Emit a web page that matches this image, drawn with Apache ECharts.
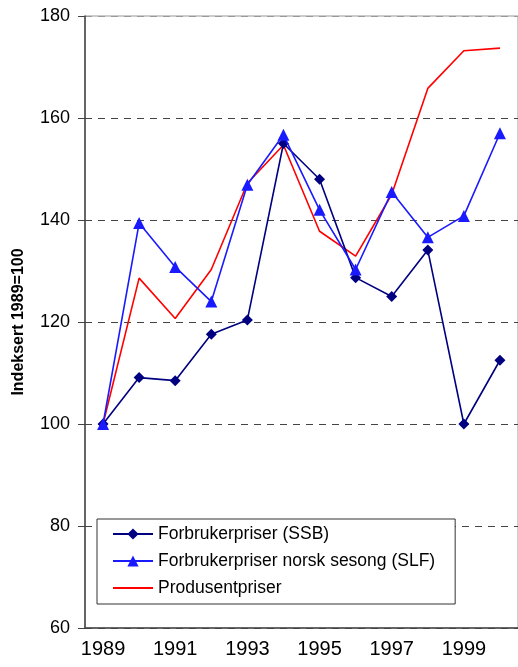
<!DOCTYPE html>
<html>
<head>
<meta charset="utf-8">
<script src="https://cdn.jsdelivr.net/npm/echarts@6/dist/echarts.min.js"></script>
<style>html,body{margin:0;padding:0;background:#fff}#c{width:518px;height:667px}</style>
</head>
<body>
<div id="c"></div>
<script>
const years = ['1989','1990','1991','1992','1993','1994','1995','1996','1997','1998','1999','2000'];
const ssb = [100, 109.1, 108.5, 117.6, 120.4, 155.0, 148.0, 128.7, 125.0, 134.1, 100.0, 112.5];
const slf = [100, 139.4, 130.8, 124.0, 146.9, 156.7, 142.0, 130.3, 145.5, 136.6, 140.8, 157.0];
const prod = [100, 128.6, 120.7, 130.3, 147.2, 154.7, 137.8, 132.9, 145.0, 165.8, 173.2, 173.7];
const seriesNames = ['Forbrukerpriser (SSB)', 'Forbrukerpriser norsk sesong (SLF)', 'Produsentpriser'];
const yTitle = 'Indeksert 1989=100';

const chart = echarts.init(document.getElementById('c'), null, {renderer: 'canvas'});
const font = 'Liberation Sans, Arial, sans-serif';
chart.setOption({
  animation: false,
  backgroundColor: '#fff',
  grid: {left: 85, top: 16, width: 439, bottom: 39, show: true, borderColor: '#999', borderWidth: 1, containLabel: false},
  legend: {
    orient: 'vertical', left: 97, top: 519,
    backgroundColor: '#fff', borderColor: '#333', borderWidth: 1,
    padding: [5, 20, 6, 15], itemGap: 7, itemWidth: 40, itemHeight: 14,
    textStyle: {fontFamily: font, fontSize: 17.5, color: '#000', lineHeight: 20},
    data: [
      {name: seriesNames[0]},
      {name: seriesNames[1]},
      {name: seriesNames[2], itemStyle: {opacity: 0}}
    ]
  },
  xAxis: {
    type: 'category', data: years, boundaryGap: true,
    axisLine: {lineStyle: {color: '#444', width: 1.5}},
    axisTick: {interval: 0, length: 5, lineStyle: {color: '#444'}},
    axisLabel: {interval: 1, fontFamily: font, fontSize: 20, color: '#000', margin: 11},
    splitLine: {show: false}
  },
  yAxis: {
    type: 'value', min: 60, max: 180, interval: 20,
    name: yTitle, nameLocation: 'middle', nameGap: 58,
    nameTextStyle: {fontFamily: font, fontSize: 16, fontWeight: 'bold', color: '#000'},
    axisLine: {show: true, lineStyle: {color: '#444', width: 1.5}},
    axisTick: {show: true, length: 7, lineStyle: {color: '#444'}},
    axisLabel: {fontFamily: font, fontSize: 18, color: '#000', margin: 15},
    splitLine: {show: true, lineStyle: {color: ['#444','#444','#444','#444','#444','#444','#999'], type: [7, 6], width: 1}}
  },
  series: [
    {name: seriesNames[0], type: 'line', data: ssb, color: '#000080',
     symbol: 'diamond', symbolSize: 11, lineStyle: {width: 1.6, color: '#000080'},
     itemStyle: {color: '#000080'}, z: 3},
    {name: seriesNames[1], type: 'line', data: slf, color: '#1a1aff',
     symbol: 'triangle', symbolSize: 12, lineStyle: {width: 1.6, color: '#1a1aff'},
     itemStyle: {color: '#1a1aff'}, z: 4},
    {name: seriesNames[2], type: 'line', data: prod, color: '#ff0000',
     symbol: 'none', lineStyle: {width: 1.6, color: '#ff0000'}, z: 2}
  ]
});
</script>
</body>
</html>
